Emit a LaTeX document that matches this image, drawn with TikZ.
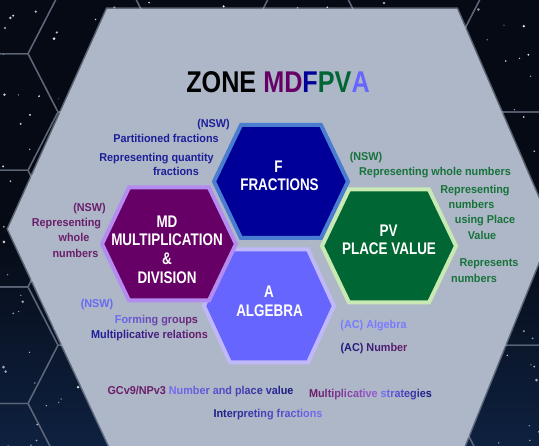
\documentclass[tikz,border=0pt]{standalone}
\usepackage{fontspec}
\setmainfont{Liberation Sans}
\newfontfamily\lblfont{Liberation Sans}[FakeStretch=0.95]
\newfontfamily\hexfont{Liberation Sans}[FakeStretch=0.80]
\newfontfamily\titlefont{Liberation Sans}[FakeStretch=0.84]

\definecolor{bgdark}{HTML}{060A14}
\definecolor{bgblue}{HTML}{0E2140}
\definecolor{zone}{HTML}{ADB7C8}
\definecolor{gridc}{HTML}{5C6577}
\definecolor{ffill}{HTML}{000099}
\definecolor{fbord}{HTML}{4A7CD0}
\definecolor{mdfill}{HTML}{660066}
\definecolor{mdbord}{HTML}{B48CF0}
\definecolor{pvfill}{HTML}{006633}
\definecolor{pvbord}{HTML}{C8E8B4}
\definecolor{afill}{HTML}{6666FF}
\definecolor{abord}{HTML}{C0B8F8}
\definecolor{tblue}{HTML}{1E1E98}
\definecolor{tpurp}{HTML}{6B1F6B}
\definecolor{tgreen}{HTML}{17733A}
\definecolor{tperi}{HTML}{6A6AF0}
\definecolor{tperil}{HTML}{7B7BFF}
\definecolor{tnavy}{HTML}{1A1A80}
\definecolor{tviolet}{HTML}{7A6AF0}
\definecolor{tmauve}{HTML}{9A5AD0}

\ExplSyntaxOn
\int_new:N \l_gt_total_int
\int_new:N \l_gt_idx_int
\seq_new:N \l_gt_words_seq
\NewDocumentCommand{\gradtext}{mmm}
 {
  \seq_set_split:Nnn \l_gt_words_seq {~} {#3}
  \int_zero:N \l_gt_total_int
  \seq_map_inline:Nn \l_gt_words_seq
   { \int_add:Nn \l_gt_total_int { \tl_count:n {##1} } }
  \int_zero:N \l_gt_idx_int
  \seq_map_indexed_inline:Nn \l_gt_words_seq
   {
    \int_compare:nNnT {##1} > {1} {~}
    \tl_map_inline:nn {##2}
     {
      \int_incr:N \l_gt_idx_int
      \exp_args:Nx \color { #2 ! \int_eval:n { (\l_gt_idx_int - 1) * 100 / (\l_gt_total_int - 1) } ! #1 }
      ####1
     }
   }
 }
\ExplSyntaxOff

\newcommand{\hexshape}[5]{(#1-#3,#2) -- (#1-#4,#2-#5) -- (#1+#4,#2-#5) -- (#1+#3,#2) -- (#1+#4,#2+#5) -- (#1-#4,#2+#5) -- cycle}

\tikzset{
  gridline/.style={draw=gridc, line width=1.3pt},
  zonehex/.style={line width=4pt, line join=miter},
  lbl/.style={font=\lblfont\bfseries\fontsize{11.4}{13}\selectfont, inner sep=0pt, anchor=base},
  hexlbl/.style={font=\hexfont\bfseries\fontsize{16.8}{19}\selectfont, text=white, inner sep=0pt, anchor=base},
  titlef/.style={font=\titlefont\bfseries\fontsize{30}{34}\selectfont, inner sep=0pt, anchor=base}
}

\begin{document}
\begin{tikzpicture}[x=1pt,y=-1pt]
\useasboundingbox (0,0) rectangle (539,446);
% space background
\shade[top color=bgdark, bottom color=bgblue, middle color=bgdark] (0,0) rectangle (539,446);
\pgfmathsetseed{42}
\foreach \i in {1,...,320} {
  \pgfmathsetmacro\sx{rnd*539}
  \pgfmathsetmacro\sy{rnd*446}
  \pgfmathsetmacro\sr{0.5+rnd*1.0}
  \pgfmathsetmacro\so{0.5+rnd*0.5}
  \fill[white, opacity=\so] (\sx,\sy) circle[radius=\sr];
}
% hexagon grid of the background
\foreach \c in {0,...,6} {
  \pgfmathsetmacro\gx{-10+106*\c}
  \pgfmathsetmacro\gy{ifthenelse(mod(\c,2)==0,112,53.7)}
  \foreach \k in {-1,...,4} {
    \pgfmathsetmacro\gyy{\gy+116.6*\k}
    \draw[gridline] \hexshape{\gx}{\gyy}{68}{38}{58.3};
  }
}
% the zone
\draw[zone, line width=3pt, opacity=0.5] (107,9) -- (457,9) -- (552,229) -- (462,452) -- (112,452) -- (8,229) -- cycle;
\fill[zone] (107,9) -- (457,9) -- (552,229) -- (462,452) -- (112,452) -- (8,229) -- cycle;

% title
\node[titlef] (title) at (278,93) {ZONE \textcolor{mdfill}{MD}\textcolor{ffill}{F}\textcolor{pvfill}{PV}\textcolor{afill}{A}};

% hexagons
\filldraw[zonehex, fill=ffill, draw=fbord] \hexshape{281}{181.5}{67}{40}{56.5};
\filldraw[zonehex, fill=afill, draw=abord] \hexshape{269}{306}{65}{39}{56.5};
\filldraw[zonehex, fill=mdfill, draw=mdbord] \hexshape{169}{244}{67}{40}{56.5};
\filldraw[zonehex, fill=pvfill, draw=pvbord] \hexshape{389}{246}{67}{40}{56.5};

% hexagon texts
\node[hexlbl] (fa) at (278.5,172.3) {F};
\node[hexlbl] (fb) at (279.5,191) {FRACTIONS};
\node[hexlbl] (mda) at (167,227.3) {MD};
\node[hexlbl] (mdb) at (167,246) {MULTIPLICATION};
\node[hexlbl] (mdc) at (167,265) {\&};
\node[hexlbl] (mdd) at (167,284) {DIVISION};
\node[hexlbl] (pva) at (388.5,236.7) {PV};
\node[hexlbl] (pvb) at (389,255) {PLACE VALUE};
\node[hexlbl] (aa) at (269,297.3) {A};
\node[hexlbl] (ab) at (269.5,316.7) {ALGEBRA};

% F labels
\node[lbl, text=tblue] (fnsw) at (213.5,127.5) {(NSW)};
\node[lbl, text=tblue] (fpart) at (166,142.5) {Partitioned fractions};
\node[lbl, text=tblue] (frep) at (156.5,161.5) {Representing quantity};
\node[lbl, text=tblue] (ffrac) at (176,176) {fractions};

% MD labels
\node[lbl, text=tpurp] (mdnsw) at (89.5,211.7) {(NSW)};
\node[lbl, text=tpurp] (mdrep) at (66.5,227) {Representing};
\node[lbl, text=tpurp] (mdwho) at (74,242) {whole};
\node[lbl, text=tpurp] (mdnum) at (75.5,258) {numbers};

% PV labels
\node[lbl, text=tgreen] (pvnsw) at (366,161) {(NSW)};
\node[lbl, text=tgreen] (pvrwn) at (435,176) {Representing whole numbers};
\node[lbl, text=tgreen] (pvrep) at (475,193.3) {Representing};
\node[lbl, text=tgreen] (pvnum) at (471.5,208.3) {numbers};
\node[lbl, text=tgreen] (pvusi) at (485,224) {using Place};
\node[lbl, text=tgreen] (pvval) at (482,240) {Value};
\node[lbl, text=tgreen] (pvrps) at (489,266.7) {Represents};
\node[lbl, text=tgreen] (pvnm2) at (474,282.3) {numbers};

% A labels
\node[lbl, text=tperi] (answ) at (97,307.3) {(NSW)};
\node[lbl] (aform) at (156.5,323.3) {\gradtext{tperi}{tpurp}{Forming groups}};
\node[lbl] (amult) at (149.5,339) {\gradtext{tblue}{tpurp}{Multiplicative relations}};
\node[lbl, text=tperil] (aalg) at (373.5,329) {(AC) Algebra};
\node[lbl] (anum) at (374,351.7) {\gradtext{tnavy}{tpurp}{(AC) Number}};

% bottom labels
\node[lbl] (bgc) at (200.5,395) {\textcolor{tpurp}{GCv9/NPv3} \gradtext{tviolet}{tnavy}{Number and place value}};
\node[lbl] (bms) at (370.5,397.3) {\gradtext{tpurp}{tmauve}{Multiplicative} \gradtext{tviolet}{tnavy}{strategies}};
\node[lbl] (bif) at (268,417.3) {\gradtext{tnavy}{tviolet}{Interpreting fractions}};
\end{tikzpicture}
\end{document}
